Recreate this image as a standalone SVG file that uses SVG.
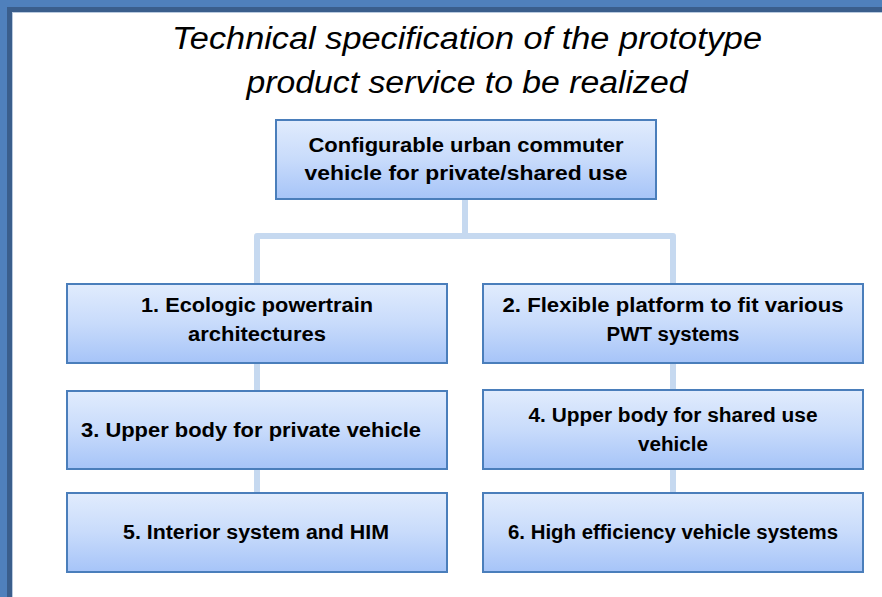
<svg xmlns="http://www.w3.org/2000/svg" width="882" height="597" viewBox="0 0 882 597">
  <defs>
    <linearGradient id="boxFill" x1="0" y1="0" x2="0" y2="1">
      <stop offset="0" stop-color="#E1ECFD"/>
      <stop offset="0.5" stop-color="#C8DBFB"/>
      <stop offset="1" stop-color="#A6C4F8"/>
    </linearGradient>
  </defs>
  <style>
    .box { fill: url(#boxFill); stroke: #4A7EBB; stroke-width: 2; }
    .shadow { fill: #8FA9C9; opacity: 0.5; }
    .lbl { font-family: "Liberation Sans", Arial, sans-serif; font-weight: bold; font-size: 20px; fill: #000; text-anchor: middle; }
    .title { font-family: "Liberation Sans", Arial, sans-serif; font-style: italic; font-size: 31px; fill: #000; text-anchor: middle; }
    .conn { fill: none; stroke: #C6D9F0; stroke-width: 6; stroke-linejoin: round; }
  </style>

  <!-- page frame -->
  <rect x="0" y="0" width="882" height="597" fill="#4F80BC"/>
  <rect x="7" y="7" width="900" height="700" fill="#3A5E8C"/>
  <rect x="12" y="12" width="900" height="700" fill="#B9CADF"/>
  <rect x="13" y="13" width="900" height="700" fill="#FFFFFF"/>

  <!-- heading -->
  <text class="title" x="467" y="49" textLength="590" lengthAdjust="spacingAndGlyphs">Technical specification of the prototype</text>
  <text class="title" x="467" y="93" textLength="441" lengthAdjust="spacingAndGlyphs">product service to be realized</text>

  <!-- connectors -->
  <g id="connectors">
    <path class="conn" d="M465,199 V236"/>
    <path class="conn" d="M257,284 V236 H673 V284"/>
    <path class="conn" d="M257,363 V391"/>
    <path class="conn" d="M257,469 V493"/>
    <path class="conn" d="M673,363 V390"/>
    <path class="conn" d="M673,469 V493"/>
  </g>

  <g id="root">
    <rect class="shadow" x="277" y="121" width="380" height="79"/>
    <rect class="box" x="276" y="120" width="380" height="79"/>
    <text class="lbl" x="466" y="152" textLength="315" lengthAdjust="spacingAndGlyphs">Configurable urban commuter</text>
    <text class="lbl" x="466" y="180" textLength="323" lengthAdjust="spacingAndGlyphs">vehicle for private/shared use</text>
  </g>

  <g id="n1">
    <rect class="shadow" x="68" y="285" width="380" height="79"/>
    <rect class="box" x="67" y="284" width="380" height="79"/>
    <text class="lbl" x="257" y="312" textLength="232" lengthAdjust="spacingAndGlyphs">1. Ecologic powertrain</text>
    <text class="lbl" x="257" y="341" textLength="138" lengthAdjust="spacingAndGlyphs">architectures</text>
  </g>

  <g id="n2">
    <rect class="shadow" x="484" y="285" width="380" height="79"/>
    <rect class="box" x="483" y="284" width="380" height="79"/>
    <text class="lbl" x="673" y="312" textLength="341" lengthAdjust="spacingAndGlyphs">2. Flexible platform to fit various</text>
    <text class="lbl" x="673" y="341" textLength="133" lengthAdjust="spacingAndGlyphs">PWT systems</text>
  </g>

  <g id="n3">
    <rect class="shadow" x="68" y="392" width="380" height="78"/>
    <rect class="box" x="67" y="391" width="380" height="78"/>
    <text class="lbl" x="251" y="437" textLength="340" lengthAdjust="spacingAndGlyphs">3. Upper body for private vehicle</text>
  </g>

  <g id="n4">
    <rect class="shadow" x="484" y="391" width="380" height="79"/>
    <rect class="box" x="483" y="390" width="380" height="79"/>
    <text class="lbl" x="673" y="422" textLength="289" lengthAdjust="spacingAndGlyphs">4. Upper body for shared use</text>
    <text class="lbl" x="673" y="451" textLength="70" lengthAdjust="spacingAndGlyphs">vehicle</text>
  </g>

  <g id="n5">
    <rect class="shadow" x="68" y="494" width="380" height="79"/>
    <rect class="box" x="67" y="493" width="380" height="79"/>
    <text class="lbl" x="256" y="539" textLength="266" lengthAdjust="spacingAndGlyphs">5. Interior system and HIM</text>
  </g>

  <g id="n6">
    <rect class="shadow" x="484" y="494" width="380" height="79"/>
    <rect class="box" x="483" y="493" width="380" height="79"/>
    <text class="lbl" x="673" y="539" textLength="330" lengthAdjust="spacingAndGlyphs">6. High efficiency vehicle systems</text>
  </g>
</svg>
